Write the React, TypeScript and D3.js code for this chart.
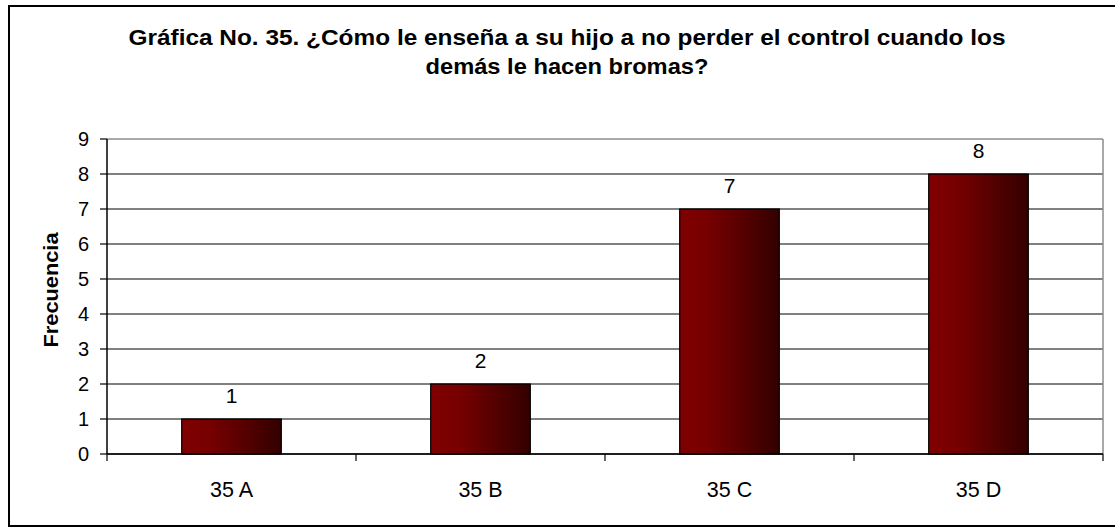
import React from "react";
import * as d3 from "d3";

const categories = ["35 A", "35 B", "35 C", "35 D"];
const values = [1, 2, 7, 8];
const yTicks = [0, 1, 2, 3, 4, 5, 6, 7, 8, 9];
const titleLines = [
  "Gráfica No. 35. ¿Cómo le enseña a su hijo a no perder el control cuando los",
  "demás le hacen bromas?",
];
const yLabel = "Frecuencia";

export default function App() {
  const W = 1115, H = 528;
  const left = 107, right = 1103, top = 139, bottom = 454;
  const x = d3.scaleBand<string>().domain(categories).range([left, right]).paddingInner(0).paddingOuter(0);
  const y = d3.scaleLinear().domain([0, 9]).range([bottom, top]);
  const bw = x.bandwidth() * 0.4;
  const font = "Arial, 'Liberation Sans', sans-serif";
  const boundaries = categories.map((c) => x(c)!).concat([right]);
  return (
    <svg width={W} height={H} style={{ position: "absolute", left: 0, top: 0 }} fontFamily={font}>
      <defs>
        <linearGradient id="barg" x1="0" x2="1" y1="0" y2="0">
          <stop offset="0" stopColor="#800000" />
          <stop offset="0.3" stopColor="#760000" />
          <stop offset="1" stopColor="#330000" />
        </linearGradient>
      </defs>
      <rect x={0} y={0} width={W} height={H} fill="#fff" />
      <rect x={9} y={6} width={1120} height={520} fill="none" stroke="#000" strokeWidth={2} />
      {titleLines.map((t, i) => (
        <text key={i} x={567} y={i === 0 ? 45 : 74} fontSize={22} fontWeight="bold" textAnchor="middle"
          textLength={i === 0 ? 877 : 283} lengthAdjust="spacingAndGlyphs" fill="#000">{t}</text>
      ))}
      {yTicks.map((t) => (
        <g key={t}>
          <line x1={left} x2={right} y1={y(t)} y2={y(t)}
            stroke={t === 9 ? "#8c8c8c" : "#000"} strokeWidth={t === 9 ? 1.5 : 1} />
          <line x1={left - 7} x2={left} y1={y(t)} y2={y(t)} stroke="#000" strokeWidth={1.2} />
          <text x={89} y={y(t) + 7} textAnchor="end" fontSize={20} fill="#000">{t}</text>
        </g>
      ))}
      <line x1={right} x2={right} y1={top} y2={bottom} stroke="#8c8c8c" strokeWidth={1.5} />
      {categories.map((c, i) => {
        const cx = x(c)! + x.bandwidth() / 2;
        return (
          <g key={c}>
            <rect x={cx - bw / 2} y={y(values[i])} width={bw} height={bottom - y(values[i])}
              fill="url(#barg)" stroke="#000" strokeWidth={1.2} />
            <text x={cx} y={y(values[i]) - 16} textAnchor="middle" fontSize={21} fill="#000">{values[i]}</text>
            <text x={cx} y={497} textAnchor="middle" fontSize={21.5} fill="#000">{c}</text>
          </g>
        );
      })}
      <line x1={left} x2={left} y1={top} y2={bottom} stroke="#000" strokeWidth={1.5} />
      <line x1={left} x2={right} y1={bottom} y2={bottom} stroke="#000" strokeWidth={1.5} />
      {boundaries.map((b, i) => (
        <line key={i} x1={b} x2={b} y1={bottom} y2={bottom + 7} stroke="#000" strokeWidth={1.2} />
      ))}
      <text transform={`translate(58,290) rotate(-90)`} textAnchor="middle" fontSize={21} fontWeight="bold"
        textLength={115} lengthAdjust="spacingAndGlyphs" fill="#000">{yLabel}</text>
    </svg>
  );
}
